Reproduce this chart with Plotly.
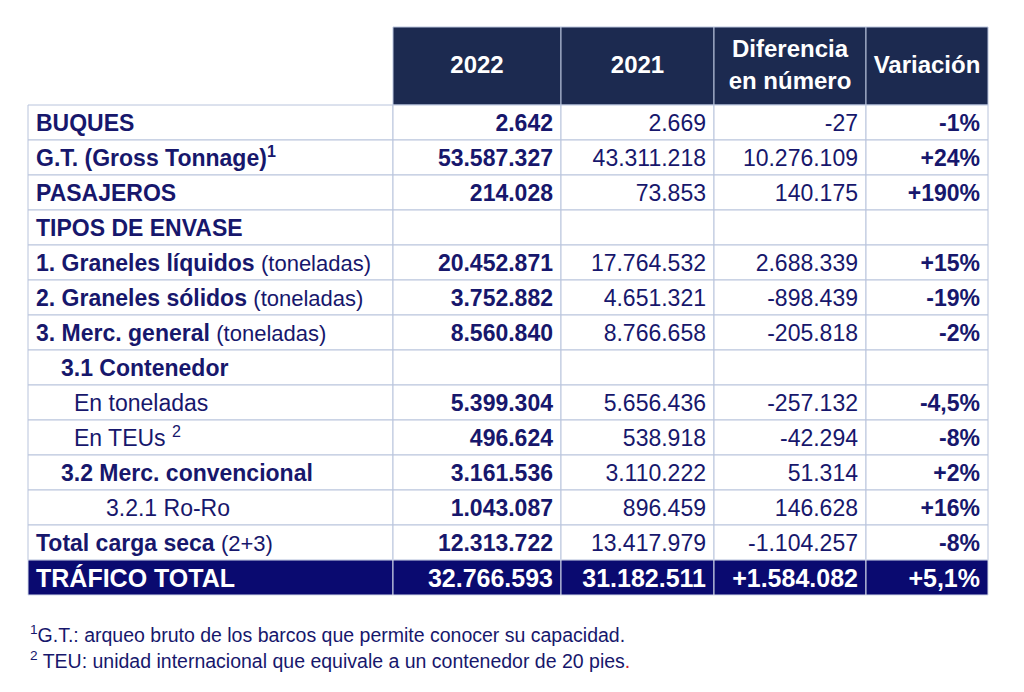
import plotly.graph_objects as go

# ---------------- data ----------------
col_headers = ["", "2022", "2021", "Diferencia<br>en número", "Variación"]

row_labels = ["BUQUES", "G.T. (Gross Tonnage)<sup>1</sup>", "PASAJEROS", "TIPOS DE ENVASE",
              "1. Graneles líquidos", "2. Graneles sólidos", "3. Merc. general",
              "3.1 Contenedor", "En toneladas", "En TEUs <sup>2</sup>",
              "3.2 Merc. convencional", "3.2.1 Ro-Ro", "Total carga seca", "TRÁFICO TOTAL"]
row_suffix = ["", "", "", "", "(toneladas)", "(toneladas)", "(toneladas)",
              "", "", "", "", "", "(2+3)", ""]
row_bold = [True, True, True, True, True, True, True, True, False, False, True, False, True, True]
row_level = [0, 0, 0, 0, 0, 0, 0, 1, 2, 2, 1, 3, 0, 0]

v2022 = ["2.642", "53.587.327", "214.028", "", "20.452.871", "3.752.882", "8.560.840", "",
         "5.399.304", "496.624", "3.161.536", "1.043.087", "12.313.722", "32.766.593"]
v2021 = ["2.669", "43.311.218", "73.853", "", "17.764.532", "4.651.321", "8.766.658", "",
         "5.656.436", "538.918", "3.110.222", "896.459", "13.417.979", "31.182.511"]
diferencia = ["-27", "10.276.109", "140.175", "", "2.688.339", "-898.439", "-205.818", "",
              "-257.132", "-42.294", "51.314", "146.628", "-1.104.257", "+1.584.082"]
variacion = ["-1%", "+24%", "+190%", "", "+15%", "-19%", "-2%", "",
             "-4,5%", "-8%", "+2%", "+16%", "-8%", "+5,1%"]

footnotes = ["<sup>1</sup>G.T.: arqueo bruto de los barcos que permite conocer su capacidad.",
             "<sup>2</sup> TEU: unidad internacional que equivale a un contenedor de 20 pies"
             "<span style='color:#d0202a'>.</span>"]

# ---------------- styles / layout constants ----------------
NAVY_TXT = "#17176c"
HEAD_FILL = "#1c2a50"
TOTAL_FILL = "#0a0a70"
BORDER = "#b9c4dc"
TOTAL_BORDER = "#d4daea"
FONT = "Liberation Sans, Arial, Helvetica, sans-serif"
W, H = 1024, 692
PAGE_OFFSET = 8          # page body margin, so axis units equal screen pixels
TABLE_LEFT = 28
COL_W = [365, 168, 153, 152, 122]
HEADER_TOP = 27
HEADER_H = 78
ROW_H = 35
PAD = 8
TEXT_DY = 3
INDENT_PX = [0, 25, 38, 70]
BODY_SIZE = 23
TOTAL_SIZE = 25
HEAD_SIZE = 24
SUFFIX_SIZE = 22
NOTE_SIZE = 19.5

n = len(row_labels)
total_idx = n - 1
col_edges = [TABLE_LEFT]
for w in COL_W:
    col_edges.append(col_edges[-1] + w)
body_top = HEADER_TOP + HEADER_H
row_tops = [body_top + i * ROW_H for i in range(n)]
row_mid = [t + ROW_H / 2 + TEXT_DY for t in row_tops]


def bold(s):
    return f"<b>{s}</b>" if s else s


# ---------------- cell backgrounds (shapes) ----------------
shapes = []
for c in range(1, 5):
    shapes.append(dict(type="rect", xref="x", yref="y", layer="below",
                       x0=col_edges[c], x1=col_edges[c + 1],
                       y0=HEADER_TOP, y1=body_top,
                       fillcolor=HEAD_FILL, line=dict(color=BORDER, width=1)))
for r in range(n):
    is_total = r == total_idx
    for c in range(5):
        shapes.append(dict(type="rect", xref="x", yref="y", layer="below",
                           x0=col_edges[c], x1=col_edges[c + 1],
                           y0=row_tops[r], y1=row_tops[r] + ROW_H,
                           fillcolor=TOTAL_FILL if is_total else "white",
                           line=dict(color=TOTAL_BORDER if is_total else BORDER, width=1)))

fig = go.Figure()

# ---------------- header text ----------------
fig.add_trace(go.Scatter(
    x=[(col_edges[c] + col_edges[c + 1]) / 2 for c in range(1, 5)],
    y=[HEADER_TOP + HEADER_H / 2 + 1] * 4,
    text=[bold(h) for h in col_headers[1:]],
    mode="text", textposition="middle center",
    textfont=dict(family=FONT, size=HEAD_SIZE, color="white"),
    hoverinfo="skip", showlegend=False))

# ---------------- first column labels ----------------
lab_text, lab_x, lab_size, lab_color = [], [], [], []
for i, (lab, suf, b, lvl) in enumerate(zip(row_labels, row_suffix, row_bold, row_level)):
    t = bold(lab) if b else lab
    if suf:
        t += f" <span style='font-size:{SUFFIX_SIZE}px'>{suf}</span>"
    lab_text.append(t)
    lab_x.append(col_edges[0] + PAD + INDENT_PX[lvl])
    lab_size.append(TOTAL_SIZE if i == total_idx else BODY_SIZE)
    lab_color.append("white" if i == total_idx else NAVY_TXT)

fig.add_trace(go.Scatter(
    x=lab_x, y=row_mid, text=lab_text, mode="text", textposition="middle right",
    textfont=dict(family=FONT, size=lab_size, color=lab_color),
    hoverinfo="skip", showlegend=False))

# ---------------- numeric columns ----------------
for c, (vals, is_bold) in enumerate([(v2022, True), (v2021, False),
                                      (diferencia, False), (variacion, True)], start=1):
    idx = [i for i, v in enumerate(vals) if v]
    fig.add_trace(go.Scatter(
        x=[col_edges[c + 1] - PAD] * len(idx),
        y=[row_mid[i] for i in idx],
        text=[bold(vals[i]) if (is_bold or i == total_idx) else vals[i] for i in idx],
        mode="text", textposition="middle left",
        textfont=dict(family=FONT,
                      size=[TOTAL_SIZE if i == total_idx else BODY_SIZE for i in idx],
                      color=["white" if i == total_idx else NAVY_TXT for i in idx]),
        hoverinfo="skip", showlegend=False))

# ---------------- footnotes ----------------
note_y0 = row_tops[-1] + ROW_H + 39
for k, note in enumerate(footnotes):
    fig.add_annotation(xref="x", yref="y", x=TABLE_LEFT, y=note_y0 + k * 26,
                       xanchor="left", yanchor="middle", showarrow=False,
                       text=note, font=dict(family=FONT, size=NOTE_SIZE, color=NAVY_TXT))

fig.update_layout(
    width=W, height=H, margin=dict(l=0, r=0, t=0, b=0),
    paper_bgcolor="white", plot_bgcolor="white", shapes=shapes,
    xaxis=dict(range=[PAGE_OFFSET, W + PAGE_OFFSET], visible=False, fixedrange=True),
    yaxis=dict(range=[H + PAGE_OFFSET, PAGE_OFFSET], visible=False, fixedrange=True),
)
fig.write_html("out.html")
